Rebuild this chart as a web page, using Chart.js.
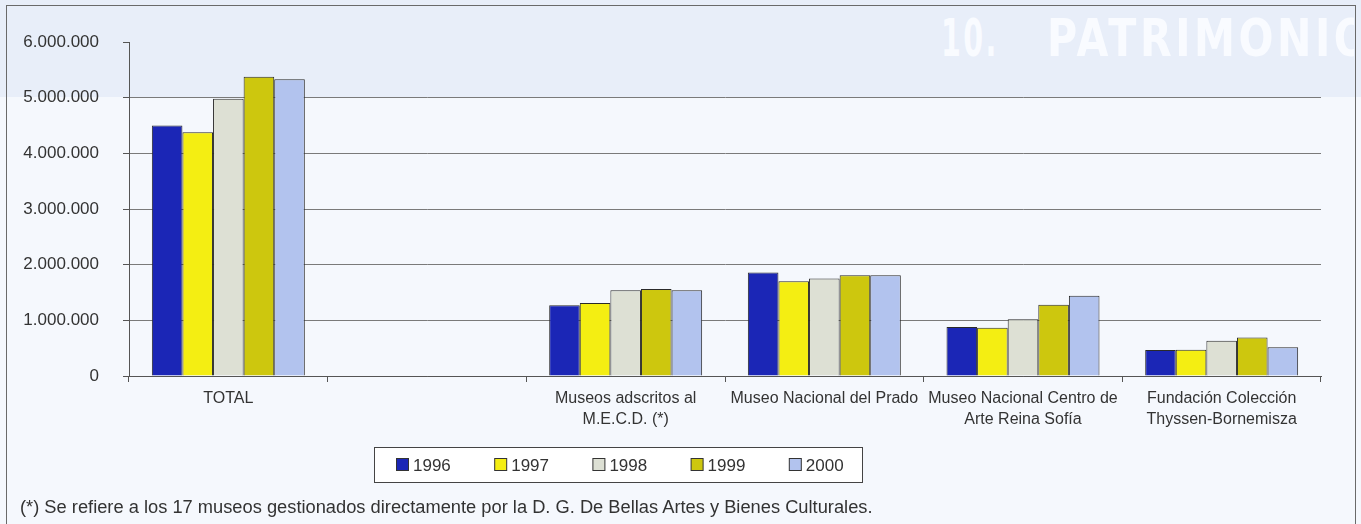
<!DOCTYPE html>
<html>
<head>
<meta charset="utf-8">
<script src="https://cdn.jsdelivr.net/npm/chart.js@4.4.1/dist/chart.umd.min.js"></script>
<style>
  html, body { margin: 0; padding: 0; }
  body { width: 1361px; height: 524px; position: relative; overflow: hidden;
         background: #f5f8fd; font-family: "Liberation Sans", Arial, sans-serif; }
  #band { position: absolute; left: 0; top: 0; width: 1361px; height: 97px; background: #e8eef9; }
  #hclip { position: absolute; left: 0; top: 0; width: 1354px; height: 97px; overflow: hidden; }
  .hd { position: absolute; top: 8px; font-family: "DejaVu Sans Condensed", "DejaVu Sans", sans-serif;
        font-weight: bold; font-size: 52px; color: #f9fbff; white-space: nowrap;
        transform-origin: 0 0; letter-spacing: 4px; }
  #frame { position: absolute; left: 6px; top: 5px; width: 1348px; height: 540px;
           border: 1px solid #6a6a6a; border-bottom: none; }
  #wrap { position: absolute; left: 0; top: 0; width: 1361px; height: 524px; }
  #note { position: absolute; left: 20px; top: 496px; font-size: 18.3px; color: #333; white-space: nowrap; }
</style>
</head>
<body>
<div id="band"></div>
<div id="hclip"><div class="hd" style="left:941px;transform:scaleX(0.61)">10.</div><div class="hd" style="left:1047px;transform:scaleX(0.88)">PATRIMONIO</div></div>
<div id="frame"></div>
<div id="wrap"><canvas id="c" width="1361" height="524"></canvas></div>
<div id="note">(*) Se refiere a los 17 museos gestionados directamente por la D. G. De Bellas Artes y Bienes Culturales.</div>
<script>
const categories = [
  "TOTAL",
  "",
  ["Museos adscritos al", "M.E.C.D. (*)"],
  "Museo Nacional del Prado",
  ["Museo Nacional Centro de", "Arte Reina Sofía"],
  ["Fundación Colección", "Thyssen-Bornemisza"]
];
const seriesNames = ["1996", "1997", "1998", "1999", "2000"];
const v1996 = [4500000, null, 1270000, 1860000, 880000, 465000];
const v1997 = [4380000, null, 1310000, 1700000, 865000, 470000];
const v1998 = [4980000, null, 1540000, 1750000, 1020000, 635000];
const v1999 = [5375000, null, 1565000, 1810000, 1280000, 690000];
const v2000 = [5330000, null, 1540000, 1810000, 1440000, 515000];
const yTicks = [0, 1000000, 2000000, 3000000, 4000000, 5000000, 6000000];
const seriesValues = [v1996, v1997, v1998, v1999, v2000];
const colors = ["#1b26b6", "#f4ee12", "#dde0d4", "#cdc70e", "#b2c3ee"];

const fmt = v => String(v).replace(/\B(?=(\d{3})+(?!\d))/g, ".");

const legendPlugin = {
  id: "boxLegend",
  afterDraw(chart) {
    const ctx = chart.ctx;
    ctx.save();
    ctx.strokeStyle = "#444";
    ctx.lineWidth = 1;
    ctx.fillStyle = "#ffffff";
    ctx.fillRect(374.5, 447.5, 488, 35);
    ctx.strokeRect(374.5, 447.5, 488, 35);
    ctx.font = "17px 'Liberation Sans', Arial, sans-serif";
    ctx.textBaseline = "middle";
    chart.data.datasets.forEach((ds, i) => {
      const x = 396 + i * 98.2;
      const y = 465;
      ctx.fillStyle = ds.backgroundColor;
      ctx.fillRect(x + 0.5, y - 6.5, 12, 12);
      ctx.strokeStyle = "#333";
      ctx.strokeRect(x + 0.5, y - 6.5, 12, 12);
      ctx.fillStyle = "#333";
      ctx.fillText(ds.label, x + 17, y + 1);
    });
    ctx.restore();
  }
};

new Chart(document.getElementById("c"), {
  type: "bar",
  data: {
    labels: categories,
    datasets: seriesNames.map((n, i) => ({
      label: n,
      data: seriesValues[i],
      backgroundColor: colors[i],
      borderColor: "#2a2a2a",
      borderWidth: 1,
      barPercentage: 1,
      categoryPercentage: 0.77
    }))
  },
  options: {
    responsive: false,
    animation: false,
    layout: { padding: { left: 0, right: 40, top: 42, bottom: 0 } },
    plugins: { legend: { display: false }, tooltip: { enabled: false } },
    scales: {
      x: {
        grid: { display: true, drawOnChartArea: false, drawTicks: true, tickLength: 6,
                color: "#555", tickColor: "#555", offset: true },
        border: { display: true, color: "#555", width: 1 },
        ticks: { color: "#333", font: { family: "'Liberation Sans', Arial, sans-serif", size: 16, lineHeight: 1.33 },
                 padding: 6, maxRotation: 0, autoSkip: false },
        afterFit(scale) { scale.height = 148; }
      },
      y: {
        min: 0, max: 6000000,
        afterBuildTicks(scale) { scale.ticks = yTicks.map(v => ({ value: v })); },
        grid: { drawTicks: true, tickLength: 6, tickColor: "#555",
                color: c => (c.tick && c.tick.value === 6000000) ? "rgba(0,0,0,0)" : "#7a7a7a" },
        border: { display: true, color: "#555", width: 1 },
        ticks: { color: "#333", font: { family: "'Liberation Sans', Arial, sans-serif", size: 17 },
                 padding: 24, callback: v => fmt(v) },
        afterFit(scale) { scale.width = 129; }
      }
    }
  },
  plugins: [legendPlugin]
});
</script>
</body>
</html>
